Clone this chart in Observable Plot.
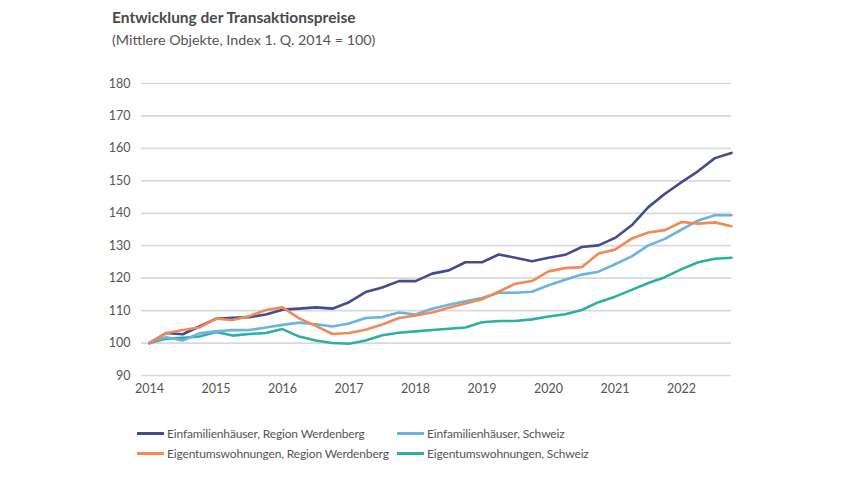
<!DOCTYPE html>
<html>
<head>
<meta charset="utf-8">
<script src="https://cdn.jsdelivr.net/npm/d3@7"></script>
<script src="https://cdn.jsdelivr.net/npm/@observablehq/plot@0.6"></script>
<style>
  body { margin: 0; background: #fff; font-family: Lato, "Open Sans", sans-serif; color: #555; }
  #wrap { width: 850px; height: 480px; position: relative; overflow: hidden; }
  #head { height: 60px; position: relative; }
  #title { position: absolute; left: 112px; top: 8px; font-size: 15.5px; font-weight: 700; color: #4a4a4a; white-space: nowrap; }
  #subtitle { position: absolute; left: 112px; top: 31px; font-size: 14.3px; color: #555; white-space: nowrap; }
  #chart svg { display: block; }
  #legend { position: relative; height: 70px; font-size: 12px; letter-spacing: -0.15px; color: #555; }
  .item { position: absolute; display: flex; align-items: center; white-space: nowrap; }
  .sw { width: 27px; height: 3px; margin-right: 3px; }
</style>
</head>
<body>
<div id="wrap">
  <div id="head">
    <div id="title">Entwicklung der Transaktionspreise</div>
    <div id="subtitle">(Mittlere Objekte, Index 1. Q. 2014 = 100)</div>
  </div>
  <div id="chart"></div>
  <div id="legend"></div>
</div>
<script>
// Quarters 2014 Q1 – 2022 Q4
const startYear = 2014;
const yearTicks = [2014, 2015, 2016, 2017, 2018, 2019, 2020, 2021, 2022];
const valueTicks = [90, 100, 110, 120, 130, 140, 150, 160, 170, 180];

const seriesNames = [
  "Einfamilienhäuser, Region Werdenberg",
  "Einfamilienhäuser, Schweiz",
  "Eigentumswohnungen, Region Werdenberg",
  "Eigentumswohnungen, Schweiz"
];
const seriesColors = ["#414d8f", "#6cb2e2", "#f28a55", "#2bb1a2"];

const efhWerdenberg = [100, 103.1, 102.7, 105.1, 107.5, 107.8, 108, 108.8, 110.3, 110.6, 111, 110.6,
  112.6, 115.7, 117.1, 119.1, 119.1, 121.4, 122.4, 124.9, 124.9, 127.3, 126.3, 125.2,
  126.3, 127.2, 129.6, 130.1, 132.4, 136.3, 141.9, 146, 149.6, 153, 157, 158.6];
const efhSchweiz = [100, 101.8, 100.8, 103, 103.6, 104, 104, 104.8, 105.6, 106.3, 105.8, 105.1,
  106, 107.7, 108, 109.4, 108.8, 110.6, 111.8, 112.9, 113.9, 115.5, 115.5, 115.8,
  117.8, 119.5, 121.1, 122, 124.3, 126.7, 130.1, 132.1, 135, 137.8, 139.4, 139.4];
const etwWerdenberg = [100, 103, 104, 104.8, 107.5, 107.1, 108.3, 110.2, 111, 107.6, 105.3, 102.8,
  103.1, 104.1, 105.7, 107.7, 108.5, 109.4, 110.9, 112.2, 113.5, 115.8, 118.3, 119.1,
  122.1, 123.1, 123.4, 127.6, 128.8, 132.2, 134.1, 134.8, 137.3, 136.8, 137.2, 136];
const etwSchweiz = [100, 101.3, 101.6, 102, 103.4, 102.3, 102.8, 103.1, 104.3, 102, 100.8, 100,
  99.8, 100.8, 102.4, 103.2, 103.6, 104, 104.4, 104.8, 106.4, 106.8, 106.8, 107.3,
  108.2, 108.9, 110.2, 112.6, 114.3, 116.4, 118.5, 120.3, 122.8, 124.9, 126, 126.3];

const allSeries = [efhWerdenberg, efhSchweiz, etwWerdenberg, etwSchweiz];
const rows = [];
allSeries.forEach((vals, s) => {
  vals.forEach((v, i) => rows.push({ t: startYear + i / 4, value: v, series: seriesNames[s] }));
});

const drawOrder = [3, 1, 0, 2];

const plot = Plot.plot({
  width: 850,
  height: 350,
  marginTop: 23,
  marginBottom: 35,
  marginLeft: 141,
  marginRight: 119,
  style: { fontFamily: "Lato, 'Open Sans', sans-serif", fontSize: "12.5px", color: "#555", background: "#fff" },
  x: { domain: [2013.88, 2022.75], ticks: yearTicks, tickFormat: d => String(d), label: null },
  y: { domain: [90, 180], ticks: valueTicks, label: null },
  marks: [
    Plot.ruleY(valueTicks, { stroke: "#d9d9d9", strokeWidth: 1.7 }),
    Plot.axisY({ ticks: valueTicks, tickSize: 0, tickPadding: 11, label: null, fill: "#555", fontSize: 12.5 }),
    Plot.axisX({ ticks: yearTicks, tickSize: 0, tickPadding: 9, label: null, tickFormat: d => String(d), fill: "#555", fontSize: 12.5 }),
    ...drawOrder.map(s => Plot.lineY(rows.filter(r => r.series === seriesNames[s]), {
      x: "t", y: "value", stroke: seriesColors[s], strokeWidth: 2.6, strokeLinejoin: "round"
    }))
  ]
});
document.getElementById("chart").appendChild(plot);

// legend
const legend = document.getElementById("legend");
const positions = [
  { left: 137, top: 16 },
  { left: 397, top: 16 },
  { left: 137, top: 36 },
  { left: 397, top: 36 }
];
seriesNames.forEach((name, i) => {
  const it = document.createElement("div");
  it.className = "item";
  it.style.left = positions[i].left + "px";
  it.style.top = positions[i].top + "px";
  const sw = document.createElement("span");
  sw.className = "sw";
  sw.style.background = seriesColors[i];
  const tx = document.createElement("span");
  tx.textContent = name;
  it.appendChild(sw);
  it.appendChild(tx);
  legend.appendChild(it);
});
</script>
</body>
</html>
